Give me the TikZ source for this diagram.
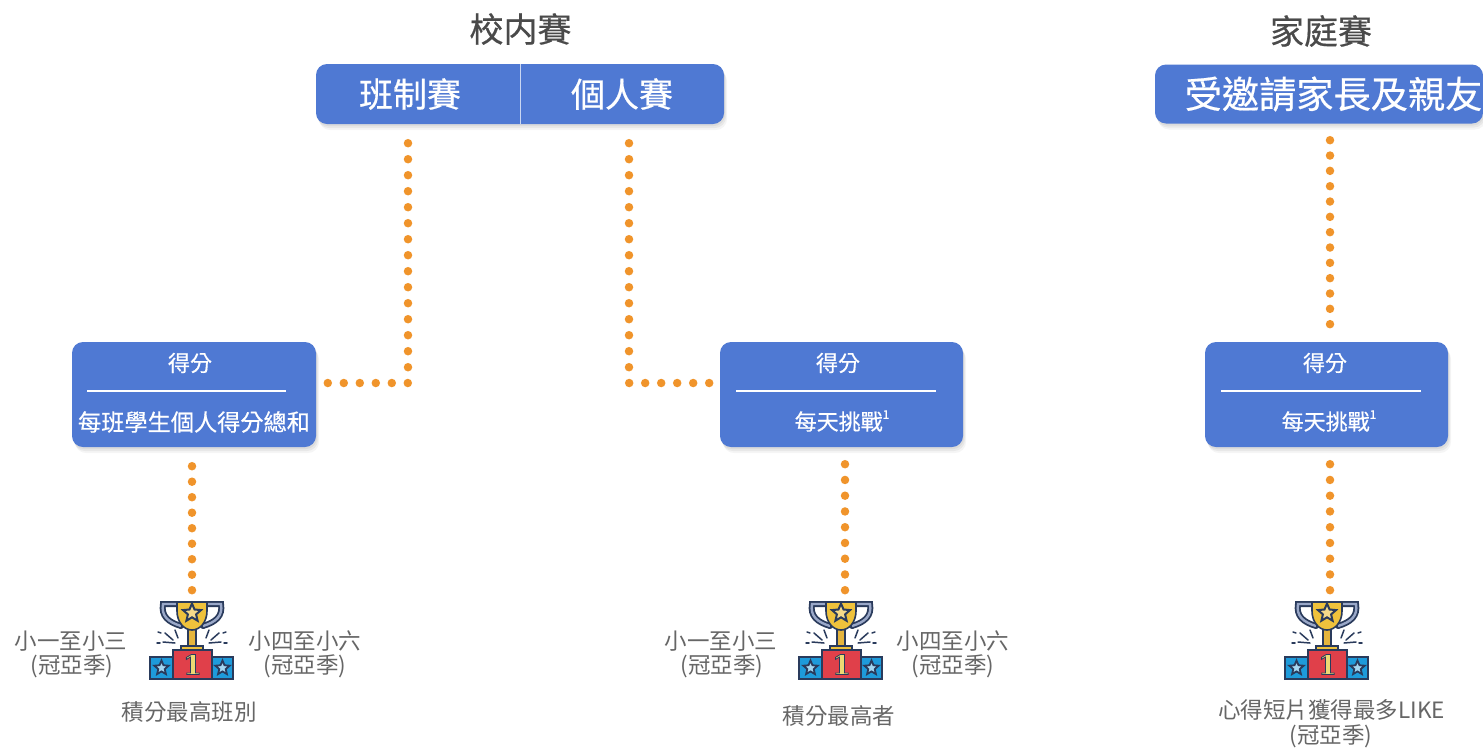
\documentclass[tikz,border=0pt]{standalone}
\usepackage{fontspec}
\setmainfont{Noto Sans CJK TC}
\newfontfamily\heavyfont[FakeBold=0.5]{Noto Sans CJK TC}
\newfontfamily\numfont[FakeBold=3]{DejaVu Serif Bold}
\usetikzlibrary{shadows,shapes.geometric,calc}
\definecolor{boxblue}{HTML}{4F79D3}
\definecolor{dotorange}{HTML}{F0942B}
\definecolor{titlegray}{HTML}{4A4A4A}
\definecolor{labelgray}{HTML}{666666}
\definecolor{icondark}{HTML}{2A3B5C}
\definecolor{icongold}{HTML}{EFC23C}
\definecolor{iconred}{HTML}{E0404A}
\definecolor{iconblue}{HTML}{1E9BDB}
\definecolor{icongrey}{HTML}{9AA8C8}
\tikzset{
  softbox/.style={fill=boxblue,draw=none,rounded corners=11pt,inner sep=0pt,
    general shadow={fill=black,opacity=.05,shadow xshift=1pt,shadow yshift=-2pt},
    general shadow={fill=black,opacity=.05,shadow xshift=2pt,shadow yshift=-4pt},
    general shadow={fill=black,opacity=.04,shadow xshift=3pt,shadow yshift=-6pt}},
  titletext/.style={text=titlegray,font=\heavyfont\fontsize{34}{38}\selectfont,inner sep=0pt},
  headtext/.style={text=white,font=\heavyfont\fontsize{34}{38}\selectfont,inner sep=0pt,minimum height=60pt},
  boxtext/.style={text=white,font=\heavyfont\fontsize{22}{26}\selectfont,inner sep=0pt},
  labeltext/.style={text=labelgray,font=\fontsize{22.5}{25}\selectfont,inner sep=0pt},
  whiterule/.style={draw=white,line width=1.2pt},
  dotline/.style={draw=dotorange,line width=8.5pt,line cap=round,dash pattern=on 0pt off #1pt},
  dotline/.default=16,
  trophy/.pic={
    \coordinate (-top) at (0,0);
    % handles
    \draw[icondark,line width=6pt,line cap=round] (-14,4) -- (-29,4) .. controls (-31,16) and (-24,22) .. (-11,26);
    \draw[icondark,line width=6pt,line cap=round] (14,4) -- (29,4) .. controls (31,16) and (24,22) .. (11,26);
    \draw[icongrey,line width=2.4pt] (-14,4) -- (-29,4) .. controls (-31,16) and (-24,22) .. (-11,26);
    \draw[icongrey,line width=2.4pt] (14,4) -- (29,4) .. controls (31,16) and (24,22) .. (11,26);
    % stem
    \fill[icongold!80!brown,draw=icondark,line width=1.4pt] (-4,28) rectangle (4,46);
    \fill[icongold,draw=icondark,line width=1.4pt] (-11,46) rectangle (11,50);
    % cup
    \fill[icongold,draw=icondark,line width=1.6pt] (-15,2) -- (15,2) -- (15,11) .. controls (15,22) and (8,30) .. (0,30) .. controls (-8,30) and (-15,22) .. (-15,11) -- cycle;
    \node[star,star points=5,star point ratio=2.2,minimum size=19pt,inner sep=0pt,fill=icongold!60!white,draw=icondark,line width=2pt] (-cupstar) at (0,13) {};
    % rays
    \foreach \s in {-1,1}{
      \draw[icondark,line width=1.5pt,line cap=round] (\s*27,33) -- (\s*19,40);
      \draw[icondark,line width=1.5pt,line cap=round] (\s*29,42) -- (\s*17,43);
      \draw[icondark,line width=1.5pt,line cap=round] (\s*35,43) -- (\s*32,43);
      \draw[icondark,line width=1.5pt,line cap=round] (\s*34,32) -- (\s*31,33);
      \draw[icondark,line width=1.5pt,line cap=round] (\s*17,30) -- (\s*14,38);
    }
    % podium
    \fill[iconblue,draw=icondark,line width=1.6pt] (-42,57) rectangle (-19,79);
    \fill[iconblue,draw=icondark,line width=1.6pt] (20,57) rectangle (41,79);
    \fill[iconred,draw=icondark,line width=1.6pt] (-19,50) rectangle (20,79);
    \node[star,star points=5,star point ratio=2.2,minimum size=15pt,inner sep=0pt,fill=iconblue!40!white,draw=icondark,line width=1.8pt] (-leftstar) at (-30.5,68) {};
    \node[star,star points=5,star point ratio=2.2,minimum size=15pt,inner sep=0pt,fill=iconblue!40!white,draw=icondark,line width=1.8pt] (-rightstar) at (30.5,68) {};
    \node[inner sep=0pt,font=\numfont\fontsize{27}{27}\selectfont] (-num) at (0.5,64.5) {\special{pdf:code q 0.16 0.23 0.36 RG 0.93 0.85 0.45 rg}1\special{pdf:code Q}};
  }
}
\begin{document}
\begin{tikzpicture}[x=1pt,y=-1pt]
\useasboundingbox (0,0) rectangle (1483,748);
\fill[white] (0,0) rectangle (1483,748);

% titles
\node[titletext] (tschool) at (520.5,29) {校内賽};
\node[titletext] (tfamily) at (1321,31) {家庭賽};

% top bars
\node[softbox,minimum width=408pt,minimum height=60pt] (topbar) at (520,94) {};
\draw[draw=white!70!boxblue,line width=1pt] (topbar.north) -- (topbar.south);
\node[headtext] (cls) at (410,94) {班制賽};
\node[headtext] (ind) at (622,94) {個人賽};
\node[softbox,minimum width=328pt,minimum height=59pt] (fam) at (1319,94) {};
\node[headtext,font=\heavyfont\fontsize{37.2}{40}\selectfont] (famtxt) at (1333.5,94) {受邀請家長及親友};

% score boxes
\node[softbox,minimum width=244pt,minimum height=105pt] (boxL) at (194,394.5) {};
\node[softbox,minimum width=243pt,minimum height=105pt] (boxM) at (841.5,394.5) {};
\node[softbox,minimum width=243pt,minimum height=105pt] (boxR) at (1326.5,394.5) {};

\node[boxtext] (sL) at (190,363) {得分};
\node[boxtext] (sM) at (838,363) {得分};
\node[boxtext] (sR) at (1325,363) {得分};
\draw[whiterule] (87,391) -- (286,391);
\draw[whiterule] (736,391) -- (936,391);
\draw[whiterule] (1221,391) -- (1421,391);
\node[boxtext,font=\heavyfont\fontsize{23.2}{26}\selectfont] (dL) at (194,422) {每班學生個人得分總和};
\node[boxtext] (dM) at (842,421) {每天挑戰\raisebox{.5em}{\fontsize{12}{12}\selectfont 1}};
\node[boxtext] (dR) at (1329,421) {每天挑戰\raisebox{.5em}{\fontsize{12}{12}\selectfont 1}};

% trophies
\pic (t1) at (192,600) {trophy};
\pic (t2) at (841,600) {trophy};
\pic (t3) at (1327,600) {trophy};

% labels
\node[labeltext] (a1) at (71,641) {小一至小三};
\node[labeltext] (a2) at (72,666) {(冠亞季)};
\node[labeltext] (b1) at (305,641) {小四至小六};
\node[labeltext] (b2) at (305,666) {(冠亞季)};
\node[labeltext] (c1) at (189,712) {積分最高班別};
\node[labeltext] (e1) at (721,641) {小一至小三};
\node[labeltext] (e2) at (722,666) {(冠亞季)};
\node[labeltext] (f1) at (953,641) {小四至小六};
\node[labeltext] (f2) at (953,666) {(冠亞季)};
\node[labeltext] (g1) at (839,716) {積分最高者};
\node[labeltext] (h1) at (1331.5,710) {心得短片獲得最多LIKE};
\node[labeltext] (h2) at (1331,736) {(冠亞季)};

% connectors
\draw[dotline] ([xshift=-2pt,yshift=-19pt]cls.south) |- ([xshift=11pt,yshift=11.5pt]boxL.east);
\draw[dotline] ([xshift=7pt,yshift=-19pt]ind.south) |- ([xshift=-9pt,yshift=11.5pt]boxM.west);
\draw[dotline=15.33] ([xshift=11pt,yshift=-16.5pt]fam.south) -- ([xshift=3.5pt,yshift=16.5pt]boxR.north);
\draw[dotline=15.5] ([xshift=-2pt,yshift=-19pt]boxL.south) -- ([yshift=9pt]t1-top);
\draw[dotline=15.75] ([xshift=3.5pt,yshift=-17pt]boxM.south) -- ([xshift=4pt,yshift=9pt]t2-top);
\draw[dotline=15.75] ([xshift=3.5pt,yshift=-17pt]boxR.south) -- ([xshift=3pt,yshift=9pt]t3-top);
\end{tikzpicture}
\end{document}
